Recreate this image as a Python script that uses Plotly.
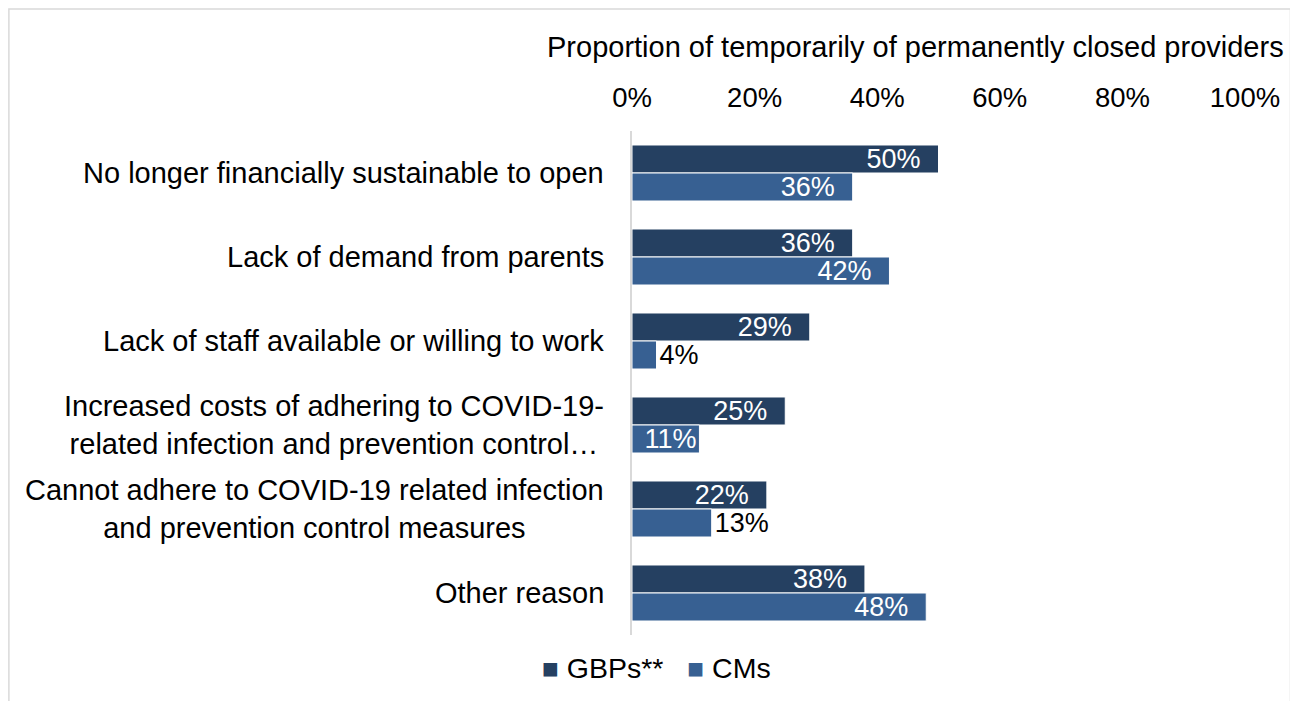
import plotly.graph_objects as go

# reasons (top to bottom)
categories = [
    "No longer financially sustainable to open",
    "Lack of demand from parents",
    "Lack of staff available or willing to work",
    "Increased costs of adhering to COVID-19-<br>related infection and prevention control…",
    "Cannot adhere to COVID-19 related infection<br>and prevention control measures",
    "Other reason",
]
gbps = [50, 36, 29, 25, 22, 38]
cms = [36, 42, 4, 11, 13, 48]
tick_vals = [0, 20, 40, 60, 80, 100]
tick_text = ["0%", "20%", "40%", "60%", "80%", "100%"]
series_names = ["GBPs**", "CMs"]
series_colors = ["#254061", "#376092"]
axis_title = "Proportion of temporarily of permanently closed providers"

# where Excel put each data label
gbps_pos = ["inside"] * 6
cms_pos = ["inside", "inside", "outside", "inside", "outside", "inside"]

FONT = "Liberation Sans, Arial, sans-serif"
NB = "\u00a0"


def labels(vals, pos):
    out = []
    for v, p in zip(vals, pos):
        if p == "inside" and v >= 20:
            out.append(f"{v}%" + NB * 2)
        else:
            out.append(f"{v}%")
    return out


fig = go.Figure()
for name, vals, pos, col in zip(series_names, [gbps, cms], [gbps_pos, cms_pos], series_colors):
    fig.add_trace(go.Bar(
        name=name, y=categories, x=vals, orientation="h",
        marker=dict(color=col, line=dict(color="white", width=1)),
        text=labels(vals, pos), textposition=pos, insidetextanchor="end",
        textangle=0, constraintext="none",
        insidetextfont=dict(color="white", size=27, family=FONT),
        outsidetextfont=dict(color="black", size=27, family=FONT),
        cliponaxis=False,
    ))

# category labels, centred lines, right edge near the axis
for c in categories:
    fig.add_annotation(
        x=0, y=c, xref="x", yref="y", text=c, showarrow=False,
        xanchor="right", yanchor="middle", align="center", xshift=-26,
        font=dict(size=29, family=FONT, color="black"),
    )

# axis title (Excel puts it a little left of the axis centre)
fig.add_annotation(
    x=0.4617, y=1.1667, xref="paper", yref="paper", text=axis_title, showarrow=False,
    xanchor="center", yanchor="middle", font=dict(size=29, family=FONT, color="black"),
)

# legend drawn as text so the swatches sit close to the names
leg = (NB * 3).join(
    f"<span style='font-size:28px;color:{c}'>■</span>{NB}{n}"
    for n, c in zip(series_names, series_colors)
)
fig.add_annotation(
    x=0.04, y=-0.065, xref="paper", yref="paper", text=leg, showarrow=False,
    xanchor="center", yanchor="middle", font=dict(size=28.5, family=FONT, color="black"),
)

# light grey chart border
fig.add_shape(type="rect", xref="paper", yref="paper",
              x0=-1.0165, x1=1.0742, y0=-0.2, y1=1.242,
              line=dict(color="#d9d9d9", width=1.5), layer="below")

fig.update_layout(
    width=1290, height=693,
    margin=dict(l=624, r=53, t=123, b=66, autoexpand=False),
    paper_bgcolor="white", plot_bgcolor="white",
    barmode="group", bargap=0.333, bargroupgap=0,
    font=dict(family=FONT, size=27, color="black"),
    showlegend=False,
    xaxis=dict(
        side="top", range=[0, 100], tickvals=tick_vals, ticktext=tick_text,
        showgrid=False, zeroline=False, showline=False, ticks="",
        ticklabelstandoff=18, automargin=False,
        tickfont=dict(size=27.5),
    ),
    yaxis=dict(
        autorange="reversed", showticklabels=False, showgrid=False,
        showline=True, linecolor="#d9d9d9", linewidth=2, ticks="",
        automargin=False,
    ),
)

fig.write_html("out.html")
